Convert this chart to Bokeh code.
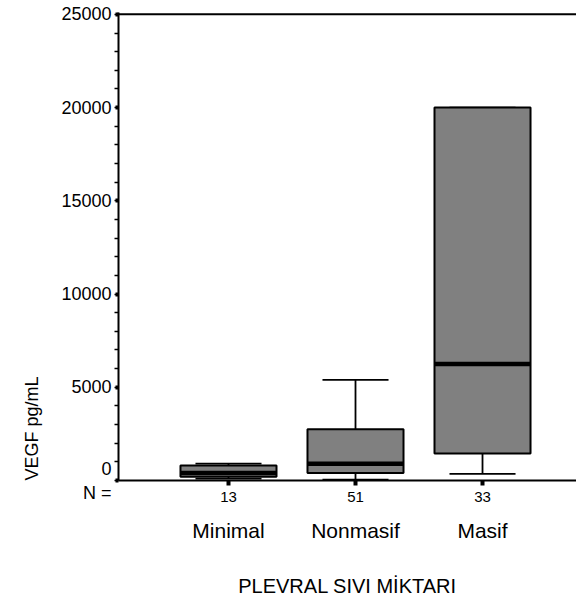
import math
from bokeh.plotting import figure
from bokeh.models import (FixedTicker, LinearAxis, Range1d, Span, Title, ColumnDataSource)
from bokeh.embed import file_html
from bokeh.resources import INLINE

# ---- data ----
categories = ["Minimal", "Nonmasif", "Masif"]
n_counts = ["13", "51", "33"]
lower = [100, 50, 350]
q1 = [200, 400, 1450]
median = [400, 900, 6250]
q3 = [800, 2750, 20000]
upper = [900, 5400, 20000]
y_major = [0, 5000, 10000, 15000, 20000, 25000]
y_title = "VEGF pg/mL"
x_title = "PLEVRAL SIVI MİKTARI"
n_prefix = "N ="

xs = [1, 2, 3]
box_w = 0.756
cap_w = 0.52
FONT = "Liberation Sans"

src = ColumnDataSource(dict(
    x=xs, lower=lower, q1=q1, median=median, q3=q3, upper=upper,
    left=[x - box_w / 2 for x in xs], right=[x + box_w / 2 for x in xs],
    cl=[x - cap_w / 2 for x in xs], cr=[x + cap_w / 2 for x in xs],
))

p = figure(width=576, height=603, output_backend="svg", toolbar_location=None,
           x_range=Range1d(0.134, 3.74), y_range=Range1d(0, 25100),
           min_border_left=118, min_border_right=0, min_border_top=12,
           min_border_bottom=123, x_axis_type=None, y_axis_type=None)
p.outline_line_color = None
p.xgrid.visible = False
p.ygrid.visible = False
p.background_fill_color = "white"
p.border_fill_color = "white"

# y axis ("N =" sits under the 0 label, as in the reference)
yax = LinearAxis(ticker=FixedTicker(ticks=y_major,
                                    minor_ticks=[v for v in range(0, 25001, 1000)]),
                 major_label_overrides={0: "0\n" + n_prefix})
yax.axis_line_width = 2
yax.axis_line_color = "black"
yax.major_tick_in = 0
yax.major_tick_out = 3
yax.major_tick_line_width = 4
yax.minor_tick_in = 0
yax.minor_tick_out = 4
yax.minor_tick_line_width = 1.5
yax.major_label_standoff = 3
yax.major_label_text_font = FONT
yax.major_label_text_font_size = "18px"
yax.major_label_text_line_height = 1.2
yax.major_label_text_color = "black"
p.add_layout(yax, "left")

# y title on the left, starting from the bottom of the frame
p.add_layout(Title(text=y_title, align="left", standoff=34, text_font=FONT,
                   text_font_size="18px", text_font_style="normal",
                   text_color="black"), "left")

# x axis with N counts
xax = LinearAxis(ticker=FixedTicker(ticks=xs, minor_ticks=[]),
                 major_label_overrides={x: n for x, n in zip(xs, n_counts)})
xax.axis_line_width = 2
xax.axis_line_color = "black"
xax.major_tick_in = 0
xax.major_tick_out = 5
xax.major_tick_line_width = 4
xax.major_label_standoff = 6
xax.major_label_text_font = FONT
xax.major_label_text_font_size = "15px"
xax.major_label_text_color = "black"
p.add_layout(xax, "below")

# category names + x title
cax = LinearAxis(ticker=FixedTicker(ticks=xs, minor_ticks=[]),
                 major_label_overrides={x: c for x, c in zip(xs, categories)},
                 axis_label=x_title)
cax.axis_line_color = None
cax.major_tick_line_color = None
cax.major_tick_out = 0
cax.major_tick_in = 0
cax.major_label_standoff = 14
cax.major_label_text_font = FONT
cax.major_label_text_font_size = "21px"
cax.major_label_text_color = "black"
cax.axis_label_standoff = 30
cax.axis_label_text_font = FONT
cax.axis_label_text_font_size = "20px"
cax.axis_label_text_font_style = "normal"
cax.axis_label_text_color = "black"
p.add_layout(cax, "below")

# top line
p.add_layout(Span(location=25000, dimension="width", line_color="black", line_width=2))

# whiskers
p.segment(x0="x", y0="q3", x1="x", y1="upper", source=src, line_color="black", line_width=1.8)
p.segment(x0="x", y0="q1", x1="x", y1="lower", source=src, line_color="black", line_width=1.8)
p.segment(x0="cl", y0="upper", x1="cr", y1="upper", source=src, line_color="black", line_width=1.8)
p.segment(x0="cl", y0="lower", x1="cr", y1="lower", source=src, line_color="black", line_width=1.8)
# boxes
p.quad(left="left", right="right", bottom="q1", top="q3", source=src,
       fill_color="#808080", line_color="black", line_width=2)
# medians
p.segment(x0="left", y0="median", x1="right", y1="median", source=src,
          line_color="black", line_width=4.5)

open("out.html", "w").write(file_html(p, INLINE))
